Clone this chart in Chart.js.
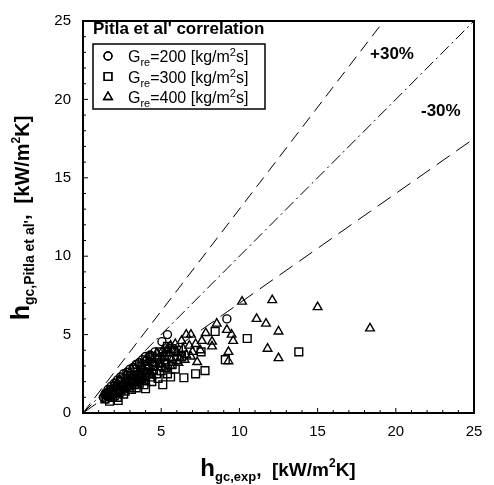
<!DOCTYPE html>
<html>
<head>
<meta charset="utf-8">
<script src="https://cdn.jsdelivr.net/npm/chart.js@4.4.0/dist/chart.umd.min.js"></script>
<style>
  html, body { margin: 0; padding: 0; background: #fff; }
</style>
</head>
<body>
<canvas id="chart" width="494" height="485"></canvas>
<script>
// measured vs. predicted gas cooler heat transfer coefficient, kW/m2K
const circles200 = [
  [1.3, 1.0], [1.4, 1.2], [1.5, 0.9], [1.55, 1.3], [1.7, 1.0], [1.8, 1.4], [1.9, 1.2], [2.0, 1.6],
  [2.1, 1.3], [2.2, 1.8], [2.3, 1.4], [2.4, 1.7], [2.5, 2.0], [2.6, 1.5], [2.7, 1.9], [2.8, 2.2],
  [2.9, 1.7], [3.0, 2.1], [3.1, 2.4], [3.2, 1.9], [3.3, 2.3], [3.4, 2.6], [3.5, 2.1], [3.6, 2.5],
  [3.7, 2.8], [3.8, 2.3], [3.9, 2.7], [4.0, 3.0], [4.1, 2.5], [4.2, 2.9], [4.4, 3.2], [4.5, 2.7],
  [4.6, 3.0], [4.8, 3.4], [5.0, 3.0], [5.2, 3.6], [5.05, 4.55], [5.4, 5.0], [9.2, 6.0],
  [1.6, 1.5], [1.8, 1.7], [2.0, 1.9], [2.2, 2.1], [2.4, 2.3], [2.6, 2.5], [2.8, 2.6], [3.0, 2.8],
  [3.2, 2.9], [3.4, 3.1], [3.6, 3.2], [3.8, 3.4], [4.0, 3.6], [4.3, 3.7], [4.6, 3.9], [2.0, 1.2],
  [2.4, 1.45], [2.8, 1.6], [3.2, 2.0], [3.6, 2.2], [4.0, 2.45], [4.4, 2.6]
]
const squares300 = [
  [1.4, 0.9], [1.5, 1.2], [1.6, 1.1], [1.8, 1.3], [2.0, 1.1], [2.1, 1.5], [2.25, 0.8], [2.3, 1.3],
  [2.5, 1.7], [2.6, 1.2], [2.8, 1.9], [3.0, 1.6], [3.1, 2.2], [3.3, 1.8], [3.5, 2.4], [3.6, 1.9],
  [3.8, 2.6], [4.0, 2.1], [4.0, 1.55], [4.2, 2.8], [4.3, 2.3], [4.5, 3.0], [4.6, 3.5], [4.7, 2.5],
  [4.9, 3.2], [5.0, 2.7], [5.1, 1.8], [5.2, 3.4], [5.3, 2.9], [5.4, 4.25], [5.5, 3.6], [5.6, 2.3],
  [5.7, 3.1], [5.8, 3.9], [6.0, 3.4], [6.1, 4.0], [6.3, 3.6], [6.45, 2.25], [7.2, 2.5], [7.55, 3.9],
  [7.8, 2.7], [8.45, 5.2], [9.1, 3.4], [10.5, 4.75], [13.8, 3.9],
  [1.7, 0.75], [1.9, 1.0], [2.2, 1.0], [2.7, 1.4], [3.1, 1.5], [3.4, 1.6], [3.7, 2.2], [3.9, 1.8],
  [4.4, 2.0], [4.8, 2.2], [5.4, 2.5], [5.9, 2.8], [2.4, 2.0], [2.9, 2.4], [3.3, 2.8], [3.7, 3.0],
  [4.1, 3.3], [4.4, 3.6], [4.9, 3.9], [5.3, 3.9], [5.7, 4.1]
]
const triangles400 = [
  [1.5, 1.2], [1.7, 1.1], [1.9, 1.4], [2.1, 1.7], [2.4, 1.4], [2.6, 1.9], [2.9, 1.7], [3.1, 2.3],
  [3.4, 2.0], [3.6, 2.6], [3.9, 2.3], [4.1, 2.9], [4.3, 2.6], [4.5, 3.2], [4.8, 2.9], [5.0, 3.5],
  [5.3, 3.2], [5.5, 3.8], [5.7, 3.4], [5.9, 4.4], [6.0, 3.9], [6.2, 3.5], [6.3, 4.6], [6.4, 4.1],
  [6.6, 3.7], [6.6, 5.0], [6.8, 4.3], [6.9, 5.0], [7.0, 3.9], [7.2, 4.4], [7.3, 3.25], [7.5, 4.0],
  [7.6, 4.6], [7.85, 5.1], [8.25, 4.55], [8.25, 4.25], [8.55, 5.7], [9.2, 5.3], [9.3, 3.9], [9.3, 3.3],
  [9.5, 5.0], [9.6, 4.6], [10.17, 7.1], [11.1, 6.0], [11.7, 5.7], [11.8, 4.1], [12.1, 7.2], [12.5, 5.2],
  [12.5, 3.5], [15.0, 6.75], [18.35, 5.4],
  [1.6, 1.45], [2.0, 1.9], [2.3, 2.1], [2.7, 2.4], [3.0, 2.6], [3.3, 2.8], [3.7, 3.1], [4.0, 3.4],
  [4.3, 3.6], [4.7, 3.8], [5.1, 4.0], [5.4, 4.1], [5.6, 4.3], [5.2, 2.8], [5.6, 3.0], [6.1, 3.2],
  [6.5, 3.4], [6.9, 3.6], [2.2, 1.3], [2.7, 1.6], [3.3, 1.9], [3.8, 2.0], [4.4, 2.4]
]

const seriesLabels = ["200", "300", "400"]
const axisMax = 25
const tickValues = [0, 5, 10, 15, 20, 25]
// +30%, perfect agreement, -30%
const bandFactors = [1.3, 1.0, 0.7]

const toPoints = arr => arr.map(p => ({ x: p[0], y: p[1] }))
const bandLine = f => [{ x: 0, y: 0 }, { x: Math.min(axisMax, axisMax / f), y: Math.min(axisMax, axisMax * f) }]

const FONT = "'Liberation Sans', Arial, sans-serif"

// draws a row of text pieces (normal / sub / sup) starting at x, baseline y
const drawPieces = (ctx, pieces, x, y) => {
  pieces.forEach(p => {
    ctx.font = p.font
    ctx.fillText(p.t, x, y + (p.dy || 0))
    x += ctx.measureText(p.t).width
  })
  return x
}
const piecesWidth = (ctx, pieces) => pieces.reduce((w, p) => {
  ctx.font = p.font
  return w + ctx.measureText(p.t).width
}, 0)

const decorations = {
  id: "decorations",
  afterDraw(chart) {
    const { ctx, chartArea: a } = chart
    const xs = chart.scales.x, ys = chart.scales.y
    ctx.save()
    ctx.fillStyle = "#000"
    ctx.strokeStyle = "#000"

    // frame
    ctx.lineWidth = 2
    ctx.strokeRect(a.left, a.top, a.right - a.left, a.bottom - a.top)

    // small inward ticks
    ctx.lineWidth = 1
    ctx.beginPath()
    for (let v = 1; v < axisMax; v++) {
      const len = v % 5 === 0 ? 5 : 3
      const px = xs.getPixelForValue(v)
      ctx.moveTo(px, a.bottom); ctx.lineTo(px, a.bottom - len)
      const py = ys.getPixelForValue(v)
      ctx.moveTo(a.left, py); ctx.lineTo(a.left + len, py)
    }
    ctx.stroke()

    // band labels
    ctx.textBaseline = "alphabetic"
    ctx.font = "bold 17px " + FONT
    ctx.fillText("+30%", 370, 59)
    ctx.fillText("-30%", 421, 116)

    // legend title + box
    ctx.font = "bold 17px " + FONT
    ctx.fillText("Pitla et al' correlation", 93, 34)
    const box = { l: 93, t: 44, r: 265, b: 109 }
    ctx.fillStyle = "#fff"
    ctx.fillRect(box.l, box.t, box.r - box.l, box.b - box.t)
    ctx.lineWidth = 1.5
    ctx.strokeRect(box.l, box.t, box.r - box.l, box.b - box.t)

    const styles = ["circle", "rect", "triangle"]
    const radii = [4, 5.5, 5]
    seriesLabels.forEach((lab, i) => {
      const cy = 56 + i * 20.5
      ctx.fillStyle = "#fff"
      ctx.lineWidth = 1.3
      Chart.helpers.drawPoint(ctx, { pointStyle: styles[i], radius: radii[i], borderWidth: 1.3 }, 108, cy)
      ctx.stroke()
      ctx.fillStyle = "#000"
      drawPieces(ctx, [
        { t: "G", font: "16px " + FONT },
        { t: "re", font: "11px " + FONT, dy: 4 },
        { t: "=" + lab + " [kg/m", font: "16px " + FONT },
        { t: "2", font: "11px " + FONT, dy: -6 },
        { t: "s]", font: "16px " + FONT }
      ], 128, cy + 6)
    })

    // x axis title
    const xt = [
      { t: "h", font: "bold 24px " + FONT },
      { t: "gc,exp", font: "bold 13px " + FONT, dy: 5 },
      { t: ",  [kW/m", font: "bold 19px " + FONT },
      { t: "2", font: "bold 12px " + FONT, dy: -9 },
      { t: "K]", font: "bold 19px " + FONT }
    ]
    const xw = piecesWidth(ctx, xt)
    drawPieces(ctx, xt, 278 - xw / 2, 476)

    // y axis title
    const yt = [
      { t: "h", font: "bold 25px " + FONT },
      { t: "gc,Pitla et al'", font: "bold 14px " + FONT, dy: 5 },
      { t: ",  [kW/m", font: "bold 20px " + FONT },
      { t: "2", font: "bold 12px " + FONT, dy: -9 },
      { t: "K]", font: "bold 20px " + FONT }
    ]
    const yw = piecesWidth(ctx, yt)
    ctx.translate(29, 218)
    ctx.rotate(-Math.PI / 2)
    drawPieces(ctx, yt, -yw / 2, 0)

    ctx.restore()
  }
}

const scatterSet = (label, arr, style, r) => ({
  type: "scatter",
  label: label,
  data: toPoints(arr),
  pointStyle: style,
  pointRadius: r,
  pointBorderWidth: 1.4,
  pointBorderColor: "#000",
  pointBackgroundColor: "rgba(0,0,0,0)",
  order: 1
})

const lineSet = (f, dash) => ({
  type: "line",
  data: bandLine(f),
  borderColor: "#000",
  borderWidth: 1,
  borderDash: dash,
  pointRadius: 0,
  fill: false,
  order: 2
})

new Chart(document.getElementById("chart").getContext("2d"), {
  data: {
    datasets: [
      lineSet(bandFactors[0], [12, 7]),
      lineSet(bandFactors[1], [12, 4, 2, 4]),
      lineSet(bandFactors[2], [16, 8]),
      scatterSet("Gre=200", circles200, "circle", 4),
      scatterSet("Gre=300", squares300, "rect", 5.5),
      scatterSet("Gre=400", triangles400, "triangle", 5)
    ]
  },
  options: {
    responsive: false,
    animation: false,
    events: [],
    layout: { padding: { left: 0, right: 20, top: 13, bottom: 0 } },
    scales: {
      x: {
        type: "linear", min: 0, max: axisMax,
        afterFit: s => { s.height = 72 },
        afterBuildTicks: s => { s.ticks = tickValues.map(v => ({ value: v })) },
        grid: { display: false, drawTicks: false },
        border: { display: false },
        ticks: { color: "#000", font: { family: FONT, size: 15 }, padding: 10, maxRotation: 0 }
      },
      y: {
        type: "linear", min: 0, max: axisMax,
        afterFit: s => { s.width = 83 },
        afterBuildTicks: s => { s.ticks = tickValues.map(v => ({ value: v })) },
        grid: { display: false, drawTicks: false },
        border: { display: false },
        ticks: { color: "#000", font: { family: FONT, size: 15 }, padding: 12 }
      }
    },
    plugins: {
      legend: { display: false },
      tooltip: { enabled: false }
    }
  },
  plugins: [decorations]
})
</script>
</body>
</html>
